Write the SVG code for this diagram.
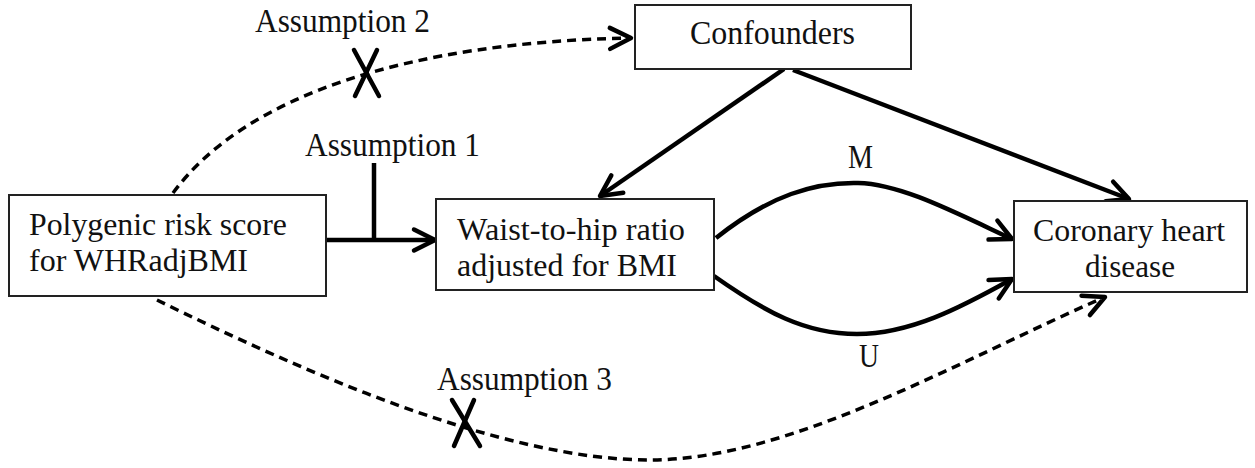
<svg xmlns="http://www.w3.org/2000/svg" width="1255" height="468" viewBox="0 0 1255 468">
<style>
.box{fill:#fff;stroke:#222;stroke-width:2}
.t{font-family:"Liberation Serif","Times New Roman",serif;font-size:34px;fill:#111}
.t2{font-family:"Liberation Serif","Times New Roman",serif;font-size:32.5px;fill:#111}
.solid{fill:none;stroke:#000;stroke-width:4.5}
.dash{fill:none;stroke:#000;stroke-width:3.5;stroke-dasharray:9,6}
.xm{stroke:#000;stroke-width:4.5;stroke-linecap:round}
</style>
<defs>
<marker id="ah" markerUnits="userSpaceOnUse" viewBox="-26 -14 30 28" markerWidth="30" markerHeight="28" refX="0" refY="0" orient="auto">
<path d="M-21,-10.5 L0,0 L-21,10.5" fill="none" stroke="#000" stroke-width="4.5" stroke-linejoin="round" stroke-linecap="round"/>
</marker>
</defs>
<g id="connectors">
<path class="solid" d="M327,240 L435,240" marker-end="url(#ah)"/>
<path class="solid" d="M374,163 L374,240"/>
<path class="solid" d="M784,69 L600,196" marker-end="url(#ah)"/>
<path class="solid" d="M793,70 L1129,199" marker-end="url(#ah)"/>
<path class="solid" d="M716,238 C770,195 815,182 858,183 C900,184 950,210 1012,239" marker-end="url(#ah)"/>
<path class="solid" d="M714,276 C765,312 805,334 857,334 C910,334 960,308 1012,279" marker-end="url(#ah)"/>
<path class="dash" d="M173,193 C245,95 410,42 631,38" marker-end="url(#ah)"/>
<path class="dash" d="M157,300 C300,370 500,460 650,460 C790,460 960,360 1105,297" marker-end="url(#ah)"/>
<line class="xm" x1="354" y1="50" x2="379" y2="96"/>
<line class="xm" x1="377" y1="50" x2="355" y2="96"/>
<line class="xm" x1="452" y1="400" x2="480" y2="446"/>
<line class="xm" x1="474" y1="400" x2="454" y2="446"/>
<text class="t" x="255" y="32" textLength="175" lengthAdjust="spacingAndGlyphs">Assumption 2</text>
<text class="t" x="305" y="156" textLength="175" lengthAdjust="spacingAndGlyphs">Assumption 1</text>
<text class="t" x="437" y="390" textLength="175" lengthAdjust="spacingAndGlyphs">Assumption 3</text>
<text class="t" x="848" y="168" textLength="25" lengthAdjust="spacingAndGlyphs">M</text>
<text class="t" x="859" y="367" textLength="20" lengthAdjust="spacingAndGlyphs">U</text>
</g>
<g id="prs">
<rect class="box" x="9" y="195" width="317" height="101"/>
<text class="t2" x="29" y="235" textLength="258" lengthAdjust="spacingAndGlyphs">Polygenic risk score</text>
<text class="t2" x="29" y="271" textLength="219" lengthAdjust="spacingAndGlyphs">for WHRadjBMI</text>
</g>
<g id="whr">
<rect class="box" x="436" y="199" width="278" height="91"/>
<text class="t2" x="457" y="240" textLength="228" lengthAdjust="spacingAndGlyphs">Waist-to-hip ratio</text>
<text class="t2" x="457" y="276" textLength="220" lengthAdjust="spacingAndGlyphs">adjusted for BMI</text>
</g>
<g id="chd">
<rect class="box" x="1014" y="201" width="233" height="91"/>
<text class="t2" x="1033" y="241" textLength="192" lengthAdjust="spacingAndGlyphs">Coronary heart</text>
<text class="t2" x="1085" y="277" textLength="90" lengthAdjust="spacingAndGlyphs">disease</text>
</g>
<g id="confounders">
<rect class="box" x="635" y="5" width="276" height="64"/>
<text class="t" x="690" y="44" textLength="165" lengthAdjust="spacingAndGlyphs">Confounders</text>
</g>
</svg>
